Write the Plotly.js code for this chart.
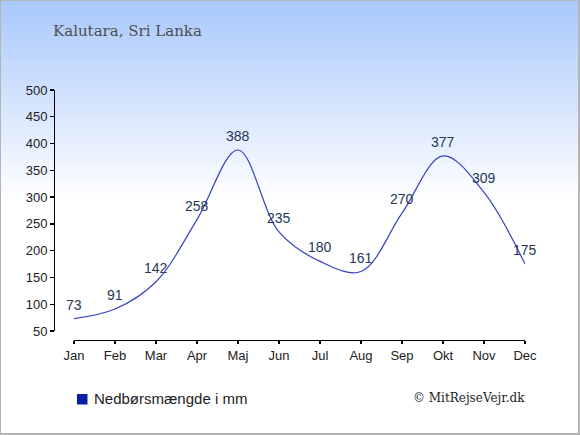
<!DOCTYPE html>
<html>
<head>
<meta charset="utf-8">
<script src="https://cdn.plot.ly/plotly-3.0.1.min.js"></script>
<style>
html,body{margin:0;padding:0;}
#wrap{position:relative;width:580px;height:435px;background:linear-gradient(to bottom,#a8c8fd 0%,#ffffff 46%,#ffffff 100%);}
#chart{position:absolute;left:0;top:0;width:580px;height:435px;}
#border{position:absolute;left:0;top:0;width:580px;height:435px;box-sizing:border-box;border-style:solid;border-color:#b5b5b5;border-width:1px 2px 2px 1px;pointer-events:none;}
</style>
</head>
<body>
<div id="wrap"><div id="chart"></div><div id="border"></div></div>
<script>
const months = ["Jan","Feb","Mar","Apr","Maj","Jun","Jul","Aug","Sep","Okt","Nov","Dec"];
const rainfall = [73, 91, 142, 258, 388, 235, 180, 161, 270, 377, 309, 175];
const yTicks = [50,100,150,200,250,300,350,400,450,500];
const titleText = "Kalutara, Sri Lanka";
const legendText = "Nedbørsmængde i mm";
const creditText = "© MitRejseVejr.dk";

const W = 580, H = 435;
const px = v => v / W;
const py = v => (H - v) / H;

const trace = {
  x: months.map((m,i)=>i),
  y: rainfall,
  type: 'scatter',
  mode: 'lines',
  line: {shape:'spline', smoothing:1, color:'#3342c4', width:1.2},
  hoverinfo: 'skip'
};

const valueLabels = rainfall.map((v,i)=>({
  x: i, y: v, xref:'x', yref:'y',
  text: String(v), showarrow:false, yshift: 14,
  xanchor:'center', yanchor:'middle',
  font:{family:'"Liberation Sans", Arial, sans-serif', size:14, color:'#253858'}
}));

const layout = {
  width: W, height: H,
  margin:{l:0,r:0,t:0,b:0},
  paper_bgcolor:'rgba(0,0,0,0)',
  plot_bgcolor:'rgba(0,0,0,0)',
  showlegend:false,
  xaxis:{
    domain:[px(74), px(525)],
    range:[0, 11],
    tickvals: months.map((m,i)=>i),
    ticktext: months,
    showgrid:false, zeroline:false,
    showline:true, linecolor:'#000', linewidth:1.3,
    ticks:'outside', ticklen:3, tickcolor:'#000', tickwidth:1.3,
    ticklabelstandoff:0,
    anchor:'free', position: py(340),
    tickfont:{family:'"Liberation Sans", Arial, sans-serif', size:13, color:'#222'},
    fixedrange:true
  },
  yaxis:{
    domain:[py(331), py(90)],
    range:[50, 500],
    tickvals: yTicks,
    showgrid:false, zeroline:false,
    showline:true, linecolor:'#000', linewidth:1.3,
    ticks:'outside', ticklen:4, tickcolor:'#000', tickwidth:1.3,
    anchor:'free', position: px(54),
    tickfont:{family:'"Liberation Sans", Arial, sans-serif', size:13, color:'#222'},
    fixedrange:true
  },
  shapes:[{
    type:'rect', xref:'paper', yref:'paper',
    x0:px(77), x1:px(87.5), y0:py(404.5), y1:py(394),
    fillcolor:'#0a1ca8', line:{width:0}
  }],
  annotations: valueLabels.concat([
    {xref:'paper', yref:'paper', x:px(51), y:py(31), xanchor:'left', yanchor:'middle',
     text:titleText, showarrow:false,
     font:{family:'"DejaVu Serif", Georgia, serif', size:15, color:'#4d4d4d'}},
    {xref:'paper', yref:'paper', x:px(92), y:py(398.5), xanchor:'left', yanchor:'middle',
     text:legendText, showarrow:false,
     font:{family:'"Liberation Sans", Arial, sans-serif', size:15, color:'#222'}},
    {xref:'paper', yref:'paper', x:px(527), y:py(397.5), xanchor:'right', yanchor:'middle',
     text:creditText, showarrow:false,
     font:{family:'"DejaVu Serif", Georgia, serif', size:12, color:'#222'}}
  ])
};

Plotly.newPlot('chart', [trace], layout, {staticPlot:true, displayModeBar:false});
</script>
</body>
</html>
